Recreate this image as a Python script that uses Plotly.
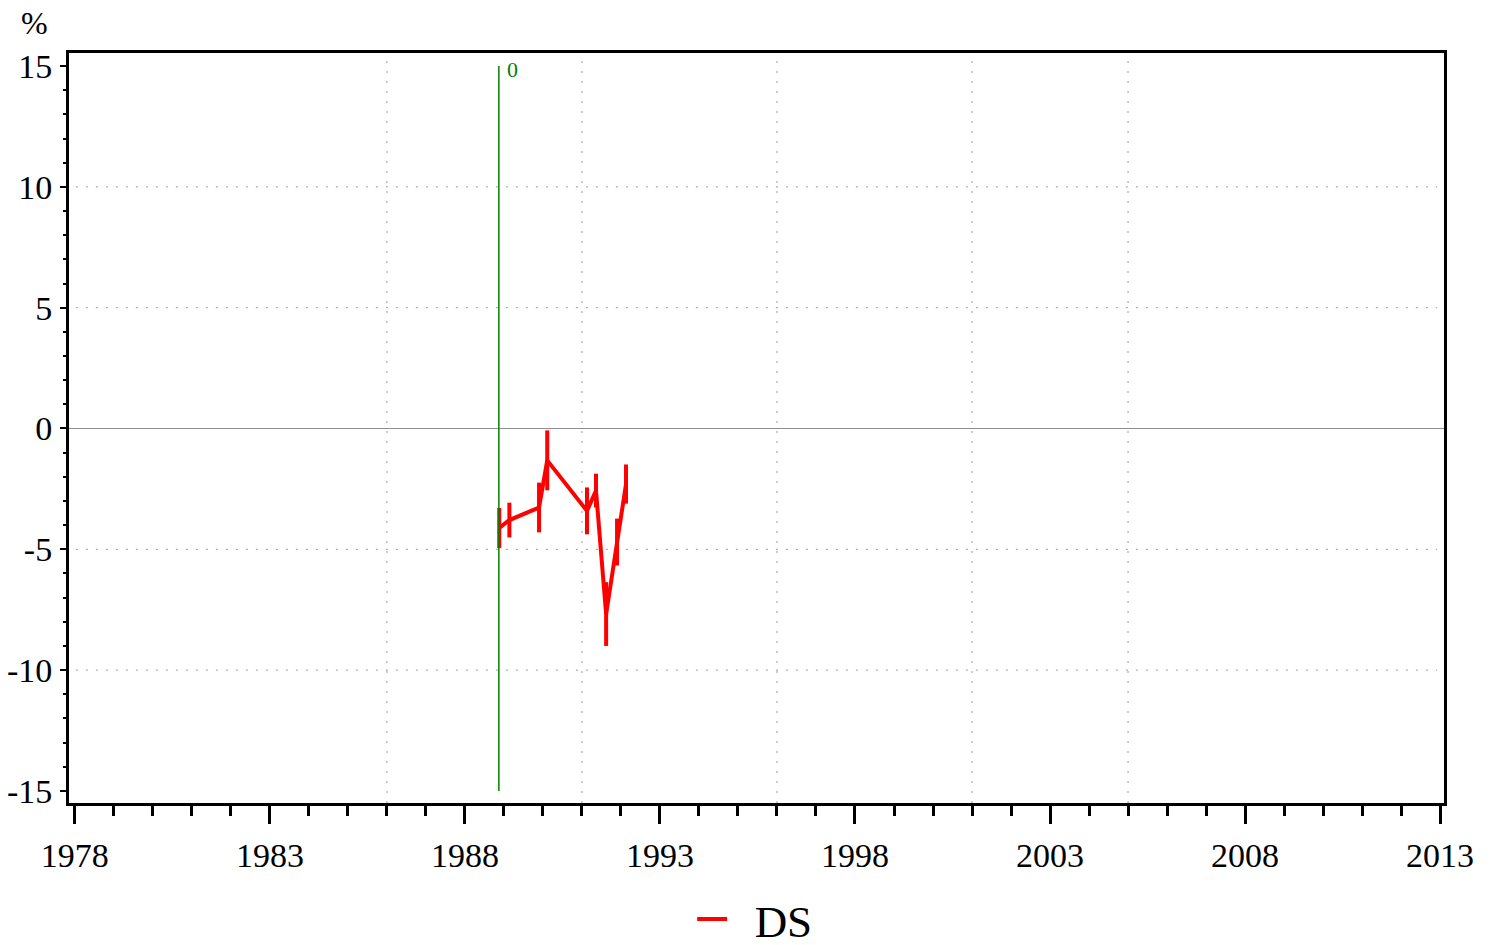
import plotly.graph_objects as go

# DS series: decimal year, value (%), symmetric error (%)
years = [1988.88, 1989.14, 1989.90, 1990.11, 1991.13, 1991.36, 1991.62, 1991.90, 1992.13]
values = [-4.12, -3.79, -3.27, -1.32, -3.41, -2.57, -7.68, -4.70, -2.30]
errors = [0.83, 0.72, 1.03, 1.24, 0.97, 0.70, 1.32, 0.97, 0.81]

marker_year = 1988.87
marker_label = "0"
x_grid = [1986, 1991, 1996, 2001, 2005]
y_grid = [-10, -5, 5, 10]
y_ticks = [-15, -10, -5, 0, 5, 10, 15]
y_ticktext = ["-15", "-10", "-5", "0", "5", "10", "15"]

FONT = "Liberation Serif"
GRID = dict(color="#999999", width=1, dash="2px,8px")

fig = go.Figure()

fig.add_trace(go.Scatter(
    x=years, y=values,
    mode="lines",
    name="  DS",
    line=dict(color="#ff0000", width=4),
    error_y=dict(type="data", array=errors, visible=True,
                 color="#ff0000", thickness=4, width=0),
))

shapes = []
for xv in x_grid:
    shapes.append(dict(type="line", xref="x", yref="y", x0=xv, x1=xv, y0=-15.5, y1=15.5,
                       line=GRID, layer="below"))
for yv in y_grid:
    shapes.append(dict(type="line", xref="paper", yref="y", x0=0.005, x1=0.995, y0=yv, y1=yv,
                       line=GRID, layer="below"))
shapes.append(dict(type="line", xref="x", yref="y", x0=marker_year, x1=marker_year, y0=-15, y1=15,
                   line=dict(color="#008000", width=1.5)))

# page body has an 8px margin, so the figure is sized/positioned to compensate
fig.update_layout(
    width=1483, height=937,
    margin=dict(l=61, r=47, t=45, b=142, autoexpand=False),
    paper_bgcolor="white", plot_bgcolor="white",
    font=dict(family=FONT, color="black", size=34),
    shapes=shapes,
    showlegend=True,
    legend=dict(orientation="h", x=0.499, xanchor="center", y=-0.155, yanchor="middle",
                font=dict(family=FONT, size=45)),
    annotations=[
        dict(x=marker_year, y=15, xref="x", yref="y", text=marker_label, showarrow=False,
             xanchor="left", yanchor="middle", xshift=6, yshift=-3,
             font=dict(family=FONT, size=22, color="#008000")),
        dict(x=(33 - 68) / 1377, y=(802 - 22) / 750, xref="paper", yref="paper", text="%",
             showarrow=False, xanchor="center", yanchor="middle",
             font=dict(family=FONT, size=32)),
    ],
)

fig.update_xaxes(
    range=[1977.85, 2013.1],
    tickmode="linear", tick0=1978, dtick=5,
    ticks="outside", ticklen=18, tickwidth=3, tickcolor="black",
    minor=dict(dtick=1, tick0=1978, ticks="outside", ticklen=10, tickwidth=3, tickcolor="black"),
    showline=True, linewidth=3, linecolor="black", mirror=True,
    showgrid=False, zeroline=False, automargin=False,
    ticklabelstandoff=2,
    tickfont=dict(family=FONT, size=34),
)
fig.update_yaxes(
    range=[-15.5, 15.54],
    tickmode="array", tickvals=y_ticks, ticktext=y_ticktext,
    ticks="outside", ticklen=6, tickwidth=2, tickcolor="black",
    minor=dict(tickmode="linear", tick0=0, dtick=1, ticks="outside", ticklen=3,
               tickwidth=2, tickcolor="black"),
    showline=True, linewidth=3, linecolor="black", mirror=True,
    showgrid=False, automargin=False,
    zeroline=True, zerolinecolor="#909090", zerolinewidth=1,
    ticklabelstandoff=1,
    tickfont=dict(family=FONT, size=34),
)

fig.write_html("out.html")
